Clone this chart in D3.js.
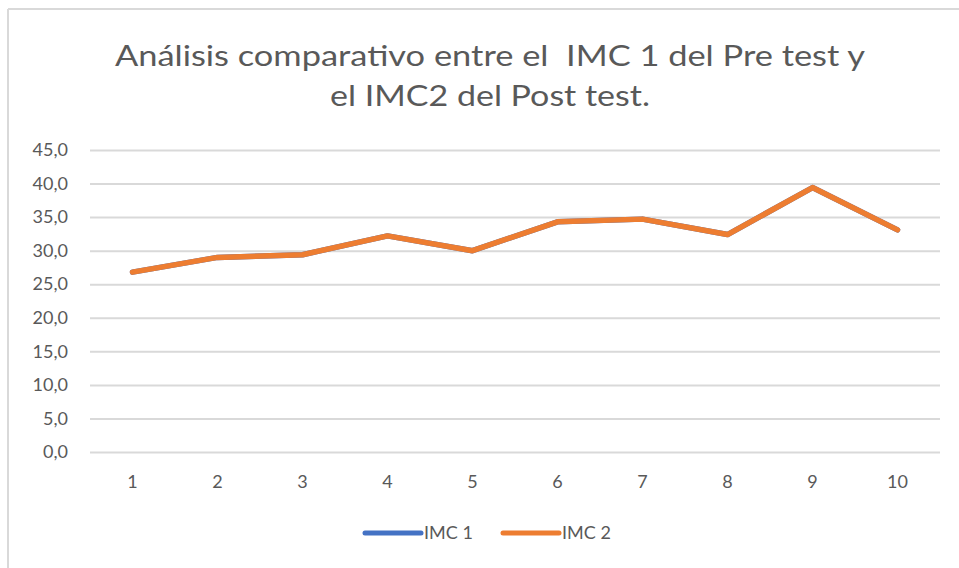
<!DOCTYPE html>
<html>
<head>
<meta charset="utf-8">
<script src="https://cdn.jsdelivr.net/npm/d3@7"></script>
<style>
  body { margin: 0; background: #fff; }
  svg { display: block; }
  text { font-family: Lato, "Open Sans", sans-serif; fill: #595959; }
</style>
</head>
<body>
<svg id="chart"></svg>
<script>
// data
const categories = ["1", "2", "3", "4", "5", "6", "7", "8", "9", "10"];
const imc1 = [26.8, 29.0, 29.4, 32.2, 30.0, 34.3, 34.7, 32.4, 39.4, 33.1];
const imc2 = [26.8, 29.0, 29.4, 32.2, 30.0, 34.3, 34.7, 32.4, 39.4, 33.1];
const yTicks = [0, 5, 10, 15, 20, 25, 30, 35, 40, 45];
const seriesNames = ["IMC 1", "IMC 2"];
const colors = ["#4472C4", "#ED7D31"];
const titleLines = ["Análisis comparativo entre el  IMC 1 del Pre test y", "el IMC2 del Post test."];

const width = 959, height = 568;
const plot = { left: 90, right: 940, top: 150, bottom: 452 };

const svg = d3.select("#chart").attr("width", width).attr("height", height);

// chart area border (only top and left visible in the crop)
svg.append("line").attr("x1", 8).attr("x2", width).attr("y1", 9).attr("y2", 9)
  .attr("stroke", "#d9d9d9").attr("stroke-width", 2);
svg.append("line").attr("x1", 8).attr("x2", 8).attr("y1", 9).attr("y2", height)
  .attr("stroke", "#d9d9d9").attr("stroke-width", 2);

// title
svg.append("g").selectAll("text")
  .data(titleLines)
  .join("text")
    .attr("x", 490)
    .attr("y", (d, i) => 66 + i * 40)
    .attr("text-anchor", "middle")
    .attr("font-size", 29)
    .attr("textLength", (d, i) => i === 0 ? 750 : 320)
    .attr("lengthAdjust", "spacingAndGlyphs")
    .style("white-space", "pre")
    .text(d => d);

const x = d3.scaleBand().domain(categories).range([plot.left, plot.right]);
const y = d3.scaleLinear().domain([0, 45]).range([plot.bottom, plot.top]);

// gridlines + y labels
const yAxis = d3.axisLeft(y)
  .tickValues(yTicks)
  .tickSize(-(plot.right - plot.left))
  .tickPadding(22)
  .tickFormat(d => d3.format(".1f")(d).replace(".", ","));

const gy = svg.append("g").attr("transform", `translate(${plot.left},0)`).call(yAxis);
gy.select(".domain").remove();
gy.selectAll(".tick line").attr("stroke", "#d9d9d9").attr("stroke-width", 2);
gy.selectAll(".tick text").attr("font-size", 18).attr("fill", "#595959");

// x labels
const xAxis = d3.axisBottom(x).tickSize(0).tickPadding(23);
const gx = svg.append("g").attr("transform", `translate(0,${plot.bottom})`).call(xAxis);
gx.select(".domain").remove();
gx.selectAll(".tick text").attr("font-size", 18).attr("fill", "#595959");

// lines
const line = d3.line()
  .x((d, i) => x(categories[i]) + x.bandwidth() / 2)
  .y(d => y(d));

svg.append("g").selectAll("path")
  .data([imc1, imc2])
  .join("path")
    .attr("d", line)
    .attr("fill", "none")
    .attr("stroke", (d, i) => colors[i])
    .attr("stroke-width", 5.5)
    .attr("stroke-linejoin", "round")
    .attr("stroke-linecap", "round");

// legend
const legendX = [365, 503];
const legend = svg.append("g").selectAll("g")
  .data(seriesNames)
  .join("g")
    .attr("transform", (d, i) => `translate(${legendX[i]},533)`);

legend.append("line")
  .attr("x1", 0).attr("x2", 56)
  .attr("stroke", (d, i) => colors[i])
  .attr("stroke-width", 5)
  .attr("stroke-linecap", "round");

legend.append("text")
  .attr("x", 59)
  .attr("dy", "0.35em")
  .attr("font-size", 18)
  .text(d => d);
</script>
</body>
</html>
